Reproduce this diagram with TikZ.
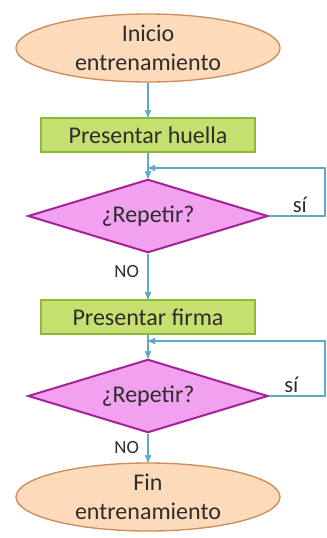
\documentclass[tikz,border=0pt]{standalone}
\usepackage{fontspec}
\setmainfont{Carlito}
\usepackage{xcolor}
\usetikzlibrary{arrows,shapes.geometric,positioning}

\definecolor{terminofill}{RGB}{252,218,186}
\definecolor{terminodraw}{RGB}{205,140,90}
\definecolor{pasofill}{RGB}{198,224,112}
\definecolor{pasodraw}{RGB}{140,185,55}
\definecolor{decfill}{RGB}{242,160,240}
\definecolor{decdraw}{RGB}{165,35,150}
\definecolor{flecha}{RGB}{95,170,200}
\definecolor{texto}{RGB}{45,45,45}

\begin{document}
\begin{tikzpicture}[x=0.75pt, y=-0.75pt, ->, >=stealth', font=\fontsize{18}{22}\selectfont,
                text=texto,
                termino/.style={ellipse,draw=terminodraw,fill=terminofill,line width=1pt,
                   minimum width=198pt,minimum height=51pt,align=center,inner sep=0pt},
                paso/.style={rectangle,draw=pasodraw,fill=pasofill,line width=1.5pt,
                   minimum width=161pt,minimum height=25pt,inner sep=0pt},
                decision/.style={diamond,draw=decdraw,fill=decfill,line width=1.5pt,aspect=3.3,
                   minimum width=180pt,minimum height=55pt,inner sep=0pt},
                flujo/.style={draw=flecha,line width=1pt},
                etiqueta/.style={font=\fontsize{14}{16}\selectfont},
                si/.style={font=\fontsize{17}{19}\selectfont}]

      \useasboundingbox (0,0) rectangle (327,538);

      \node[termino] (inicio) at (148,48) {Inicio\\entrenamiento};
      \node[paso] (huella) at (148,135) {Presentar huella};
      \node[decision] (rep1) at (148,216) {¿Repetir?};
      \node[paso] (firma) at (148,317) {Presentar firma};
      \node[decision] (rep2) at (148,396) {¿Repetir?};
      \node[termino] (fin) at (148,497) {Fin\\entrenamiento};

      \coordinate (ret1) at (148,168);
      \coordinate (ret2) at (148,341);

      \draw[flujo] (inicio) -- (huella);
      \draw[flujo] (huella) -- (rep1);
      \draw[flujo] (rep1) -- node[etiqueta, left=3pt, pos=0.4] {NO} (firma);
      \draw[flujo] (firma) -- (rep2);
      \draw[flujo] (rep2) -- node[etiqueta, left=3pt, pos=0.5] {NO} (fin);

      % bucles de repeticion
      \draw[flujo] (rep1.east) -- node[si, above=-1pt, pos=0.55] {sí} (325,216) |- (ret1);
      \draw[flujo] (rep2.east) -- node[si, above=-1pt, pos=0.4] {sí} (325,396) |- (ret2);
  \end{tikzpicture}
\end{document}
